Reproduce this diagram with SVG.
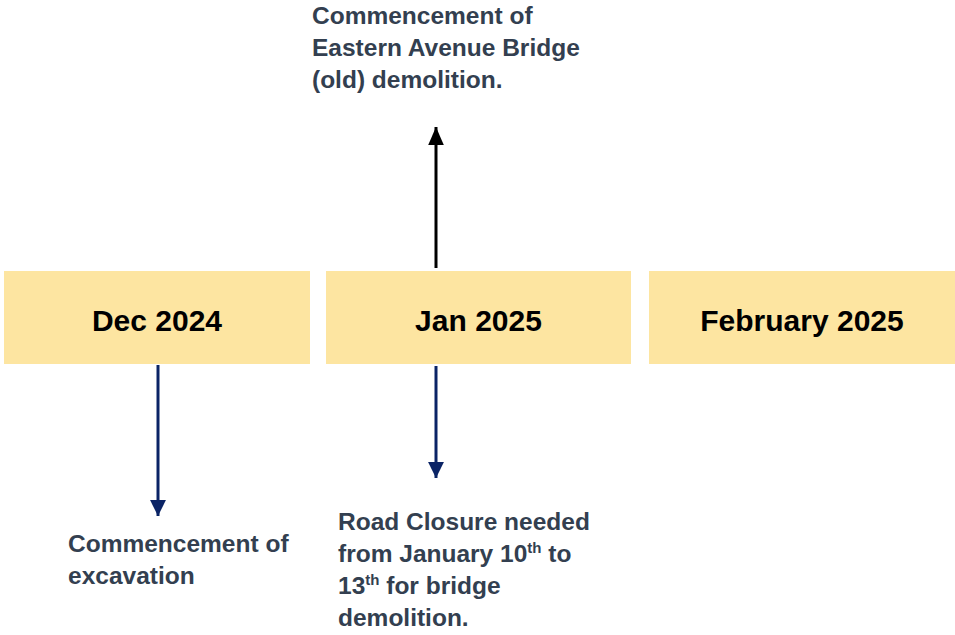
<svg xmlns="http://www.w3.org/2000/svg" width="955" height="635" viewBox="0 0 955 635">
<style>
.box{fill:#FDE5A1}
.lbl{font-family:"Liberation Sans",Arial,sans-serif;font-weight:bold;font-size:30px;fill:#000;text-anchor:middle}
.note{font-family:"Liberation Sans",Arial,sans-serif;font-weight:bold;font-size:24.5px;fill:#333F50}
.sup{font-size:15px}
.navy{stroke:#0B2466;stroke-width:3;fill:none}
.blk{stroke:#000;stroke-width:3;fill:none}
</style>
<defs>
<marker id="hn" markerWidth="5.4" markerHeight="5.4" refX="5.3" refY="2.65" orient="auto" markerUnits="strokeWidth"><path d="M0,0 L5.3,2.65 L0,5.3 Z" fill="#0B2466"/></marker>
<marker id="hb" markerWidth="6" markerHeight="5.4" refX="6" refY="2.6" orient="auto" markerUnits="strokeWidth"><path d="M0,0 L6,2.6 L0,5.2 Z" fill="#000"/></marker>
</defs>
<g id="dec"><rect class="box" x="4" y="271" width="306" height="93"/><text class="lbl" x="157" y="331">Dec 2024</text></g>
<g id="jan"><rect class="box" x="326" y="271" width="305" height="93"/><text class="lbl" x="478.5" y="331">Jan 2025</text></g>
<g id="feb"><rect class="box" x="649" y="271" width="306" height="93"/><text class="lbl" x="802" y="331">February 2025</text></g>
<g id="connectors">
<line class="navy" x1="158" y1="365" x2="158" y2="516" marker-end="url(#hn)"/>
<line class="navy" x1="436" y1="366" x2="436" y2="478" marker-end="url(#hn)"/>
<line class="blk" x1="436" y1="268" x2="436" y2="127" marker-end="url(#hb)"/>
</g>
<g id="note-top"><text class="note" x="312" y="24">Commencement of</text><text class="note" x="312" y="56">Eastern Avenue Bridge</text><text class="note" x="312" y="88">(old) demolition.</text></g>
<g id="note-dec"><text class="note" x="68" y="552">Commencement of</text><text class="note" x="68" y="584">excavation</text></g>
<g id="note-jan"><text class="note" x="338" y="530">Road Closure needed</text><text class="note" x="338" y="562">from January 10<tspan class="sup" dy="-9">th</tspan><tspan dy="9"> to</tspan></text><text class="note" x="338" y="594">13<tspan class="sup" dy="-9">th</tspan><tspan dy="9"> for bridge</tspan></text><text class="note" x="338" y="626">demolition.</text></g>
</svg>
